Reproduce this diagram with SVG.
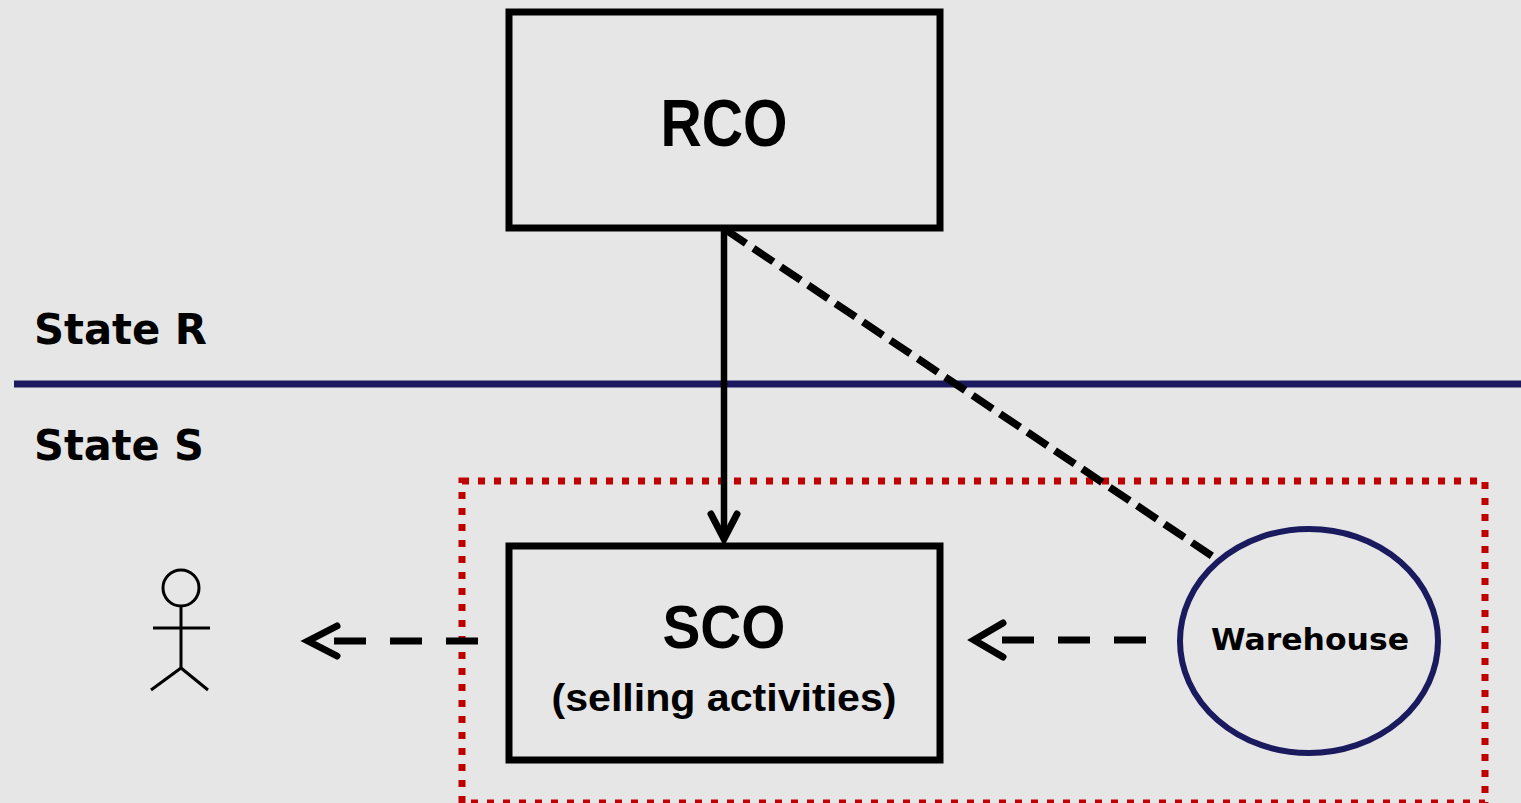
<svg xmlns="http://www.w3.org/2000/svg" width="1521" height="803" viewBox="0 0 1521 803">
<style>
.box{fill:none;stroke:#000;stroke-width:7}
.big{font-family:"Liberation Sans",Arial,sans-serif;font-weight:bold;fill:#000}
.lbl{font-family:"DejaVu Sans",Verdana,sans-serif;font-weight:bold;fill:#000}
.dash{fill:none;stroke:#000;stroke-width:7;stroke-dasharray:32 24}
.head{fill:none;stroke:#000;stroke-width:7;stroke-linecap:round;stroke-linejoin:miter}
</style>
<rect width="1521" height="803" fill="#e6e6e6"/>
<g id="lanes">
<line x1="14" y1="384" x2="1521" y2="384" stroke="#1a1a5e" stroke-width="7"/>
<text class="lbl" x="34" y="344" font-size="42" textLength="173" lengthAdjust="spacingAndGlyphs">State R</text>
<text class="lbl" x="34" y="460" font-size="42" textLength="170" lengthAdjust="spacingAndGlyphs">State S</text>
</g>
<g id="boundary">
<rect x="462" y="481" width="1023" height="322" fill="none" stroke="#c00000" stroke-width="7" stroke-dasharray="7 9"/>
</g>
<g id="connectors">
<line x1="724" y1="229" x2="724" y2="538" stroke="#000" stroke-width="6.5"/>
<polyline class="head" points="711,514 724,539 737,514" stroke-width="6.5"/>
<line x1="726" y1="230" x2="1218" y2="560" stroke="#000" stroke-width="7.5" stroke-dasharray="24 9"/>
<line class="dash" x1="1146" y1="640" x2="978" y2="640"/>
<polyline class="head" points="1003,623 974,640 1003,657"/>
<line class="dash" x1="478" y1="641" x2="310" y2="641"/>
<polyline class="head" points="337,626 308,641 337,656"/>
</g>
<g id="RCO">
<rect class="box" x="509" y="12" width="431" height="216"/>
<text class="big" x="724" y="146" font-size="66" text-anchor="middle" textLength="127" lengthAdjust="spacingAndGlyphs">RCO</text>
</g>
<g id="SCO">
<rect class="box" x="509" y="546" width="431" height="214"/>
<text class="big" x="724" y="648" font-size="62" text-anchor="middle" textLength="123" lengthAdjust="spacingAndGlyphs">SCO</text>
<text class="big" x="724" y="711" font-size="38" text-anchor="middle" textLength="345" lengthAdjust="spacingAndGlyphs">(selling activities)</text>
</g>
<g id="Warehouse">
<ellipse cx="1309" cy="641" rx="129" ry="112" fill="none" stroke="#1a1a5e" stroke-width="6"/>
<text class="lbl" x="1310" y="650" font-size="31" text-anchor="middle" textLength="198" lengthAdjust="spacingAndGlyphs">Warehouse</text>
</g>
<g id="customer" fill="none" stroke="#000" stroke-width="3">
<circle cx="181" cy="588" r="18"/>
<line x1="181" y1="606" x2="181" y2="668"/>
<line x1="153" y1="628" x2="210" y2="628"/>
<line x1="181" y1="668" x2="151" y2="690"/>
<line x1="181" y1="668" x2="208" y2="690"/>
</g>
</svg>
